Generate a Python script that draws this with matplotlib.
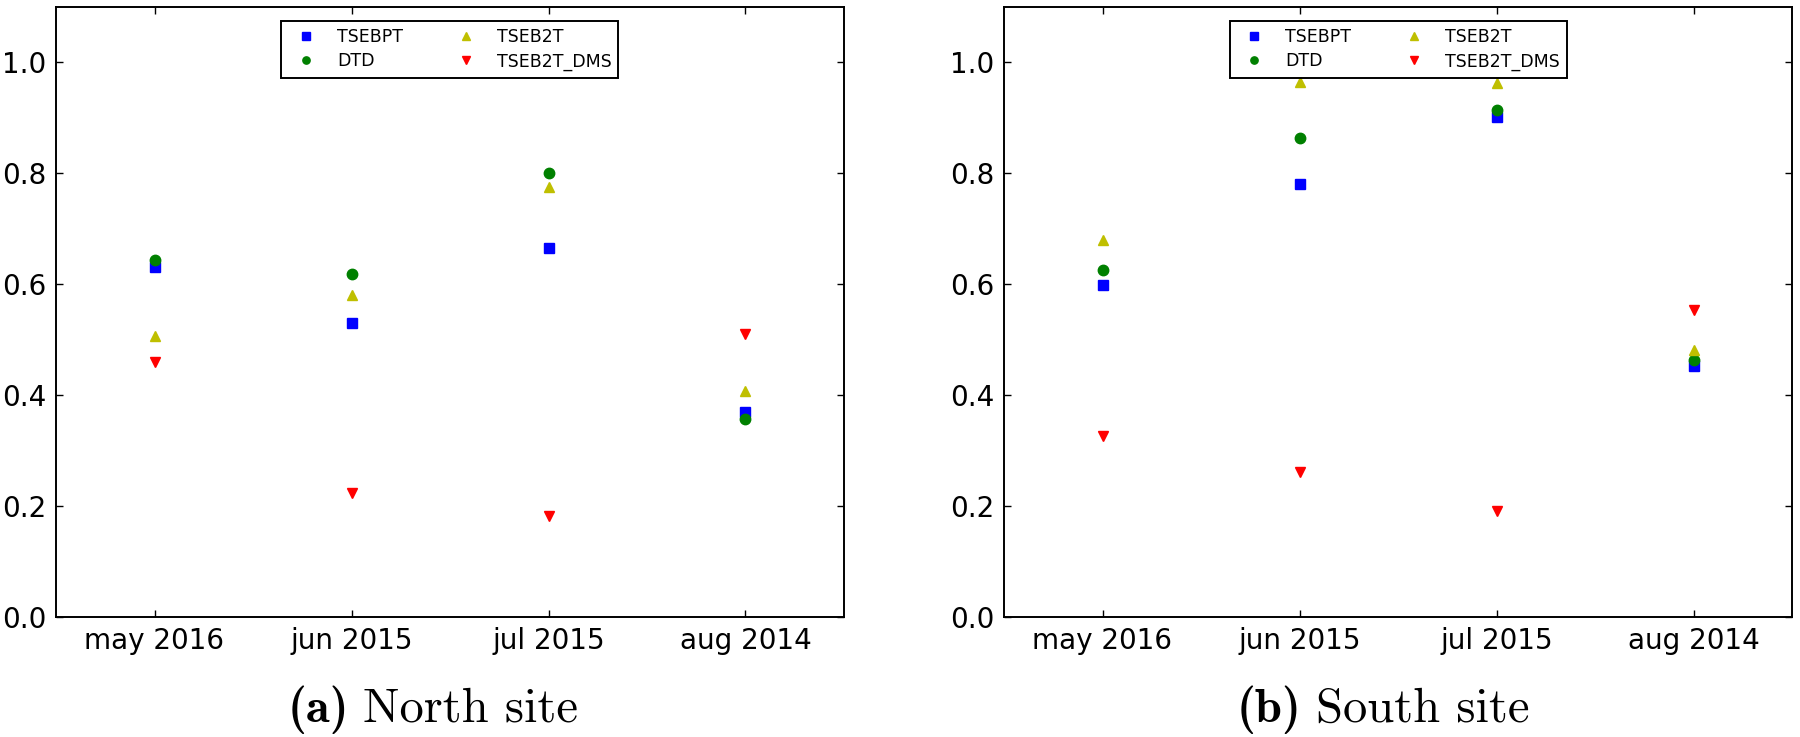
import matplotlib
matplotlib.use('Agg')
import matplotlib.pyplot as plt

# categories
months = ['may 2016', 'jun 2015', 'jul 2015', 'aug 2014']

# North site
north_tsebpt = [0.632, 0.530, 0.666, 0.370]
north_dtd = [0.644, 0.619, 0.801, 0.357]
north_tseb2t = [0.506, 0.581, 0.775, 0.408]
north_dms = [0.459, 0.223, 0.183, 0.511]

# South site
south_tsebpt = [0.599, 0.781, 0.901, 0.453]
south_dtd = [0.625, 0.863, 0.915, 0.464]
south_tseb2t = [0.679, 0.964, 0.963, 0.481]
south_dms = [0.327, 0.261, 0.192, 0.553]

labels = ['TSEBPT', 'DTD', 'TSEB2T', 'TSEB2T_DMS']
markers = ['s', 'o', '^', 'v']
colors = [(0, 0, 1), (0, 0.5, 0), (0.75, 0.75, 0), (1, 0, 0)]

plt.rcParams['font.family'] = ['DejaVu Sans']

fig = plt.figure(figsize=(18, 7.37), dpi=100)
ax1 = fig.add_axes([56 / 1800, 120 / 737, 788 / 1800, 610 / 737])
ax2 = fig.add_axes([1004 / 1800, 120 / 737, 788 / 1800, 610 / 737])

panels = [
    (ax1, [north_tsebpt, north_dtd, north_tseb2t, north_dms]),
    (ax2, [south_tsebpt, south_dtd, south_tseb2t, south_dms]),
]

x = list(range(len(months)))
for ax, series in panels:
    for vals, lab, m, c in zip(series, labels, markers, colors):
        ax.plot(x, vals, linestyle='none', marker=m, color=c, mec=c,
                markersize=7.5, label=lab)
    ax.set_xlim(-0.5, 3.5)
    ax.set_ylim(0, 1.1)
    ax.set_yticks([0.0, 0.2, 0.4, 0.6, 0.8, 1.0])
    ax.set_xticks(x)
    ax.set_xticklabels(months)
    ax.tick_params(direction='in', length=5, width=1, top=True, right=True,
                   labelsize=20, pad=7)
    for sp in ax.spines.values():
        sp.set_linewidth(1.4)
    leg = ax.legend(loc='upper center', ncol=2, numpoints=1, fontsize=12.5,
                    markerscale=0.7, fancybox=False, framealpha=1,
                    edgecolor='black', borderaxespad=0.8,
                    handlelength=2.0, handletextpad=0.8, columnspacing=2.6,
                    labelspacing=0.38)
    leg.get_frame().set_linewidth(1.4)

# subfigure captions: bold "(a)" then roman text, centred as a group
captions = [('(a)', 'North site', 433), ('(b)', 'South site', 1383)]
renderer = fig.canvas.get_renderer()
for bold, rest, cx in captions:
    t1 = fig.text(0, 15 / 737, bold, family='cmb10', fontsize=35,
                  va='baseline')
    t2 = fig.text(0, 15 / 737, rest, family='cmr10', fontsize=35,
                  va='baseline')
    w1 = t1.get_window_extent(renderer).width
    w2 = t2.get_window_extent(renderer).width
    gap = 14
    x0 = cx - (w1 + gap + w2) / 2
    t1.set_x(x0 / 1800)
    t2.set_x((x0 + w1 + gap) / 1800)

fig.savefig('out.png', dpi=100)
